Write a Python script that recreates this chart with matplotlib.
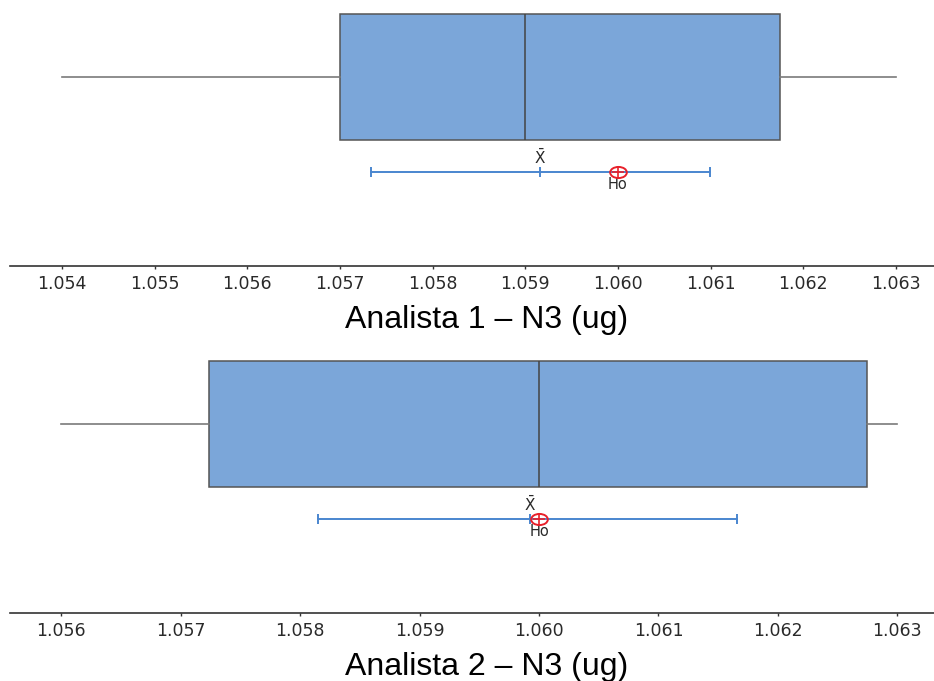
import matplotlib
matplotlib.use("Agg")
import matplotlib.pyplot as plt
from matplotlib.markers import MarkerStyle
from matplotlib.transforms import Affine2D

# datos (ug)
etiquetas = ["Analista 1 – N3 (ug)", "Analista 2 – N3 (ug)"]
minimos = [1.054, 1.056]
q1 = [1.0570, 1.05724]
medianas = [1.0590, 1.0600]
q3 = [1.06175, 1.06275]
maximos = [1.063, 1.063]
ic_inf = [1.05734, 1.05815]
medias = [1.05916, 1.05992]
ic_sup = [1.06099, 1.06166]
h0 = [1.060, 1.060]
ticks = [[1.054, 1.055, 1.056, 1.057, 1.058, 1.059, 1.060, 1.061, 1.062, 1.063],
         [1.056, 1.057, 1.058, 1.059, 1.060, 1.061, 1.062, 1.063]]
limites = [(1.05344, 1.06341), (1.05557, 1.063307)]

azul_caja = "#7BA6D9"
azul_ic = "#4A86CF"
rojo = "#E8202A"
gris = "#2a2a2a"

fig = plt.figure(figsize=(9.34, 6.81), dpi=100)
H = 681.0
W = 934.0
# ejes: alto 266 px, spine inferior en y=266 y y=613
posiciones_ejes = [266, 613]

for i in range(2):
    bottom = 1 - posiciones_ejes[i] / H
    ax = fig.add_axes([10 / W, bottom, 924 / W, 266 / H])
    ax.set_ylim(266, 0)
    ax.set_xlim(*limites[i])

    stats = [{"med": medianas[i], "q1": q1[i], "q3": q3[i],
              "whislo": minimos[i], "whishi": maximos[i], "fliers": []}]
    ax.bxp(stats, positions=[77], widths=126, orientation="horizontal",
           showcaps=False, patch_artist=True,
           boxprops=dict(facecolor=azul_caja, edgecolor="#555555", linewidth=1.1),
           medianprops=dict(color="#444444", linewidth=1.1),
           whiskerprops=dict(color="#7a7a7a", linewidth=1.2))

    # intervalo de confianza de la media
    y_ic = 172
    ax.plot([ic_inf[i], ic_sup[i]], [y_ic, y_ic], color=azul_ic, lw=1.4, zorder=3)
    ax.plot([ic_inf[i], medias[i], ic_sup[i]], [y_ic] * 3, ls="none",
            marker="|", ms=7, mew=1.4, color=azul_ic, zorder=3)
    elip = MarkerStyle("o", transform=Affine2D().scale(1.5, 1.0))
    ax.plot([h0[i]], [y_ic], ls="none", marker=elip, ms=8, mfc="none",
            mec=rojo, mew=1.4, zorder=4)
    ax.plot([h0[i]], [y_ic], ls="none", marker="+", ms=8, mew=1.2,
            color=rojo, zorder=5)
    ax.text(medias[i], y_ic - 5, r"$\bar{\mathrm{X}}$", ha="center", va="bottom",
            fontsize=11, color=gris)
    ax.text(h0[i], y_ic + 5, "Ho", ha="center", va="top",
            fontsize=10.5, color=gris)

    ax.set_yticks([])
    for s in ["top", "right", "left"]:
        ax.spines[s].set_visible(False)
    ax.spines["bottom"].set_color("#333333")
    ax.spines["bottom"].set_linewidth(1.2)
    ax.set_xticks(ticks[i])
    ax.set_xticklabels(["%.3f" % t for t in ticks[i]])
    ax.tick_params(axis="x", length=2.5, width=1, color="#333333",
                   pad=4, labelsize=12.5, labelcolor=gris)
    for lab in ax.get_xticklabels():
        lab.set_fontweight("medium")
    ax.patch.set_alpha(0)

    ax.text((487 - 10) / 924, -62 / 266, etiquetas[i], transform=ax.transAxes,
            ha="center", va="baseline", fontsize=23,
            family="Liberation Sans", color="black")

fig.savefig("out.png", dpi=100)
